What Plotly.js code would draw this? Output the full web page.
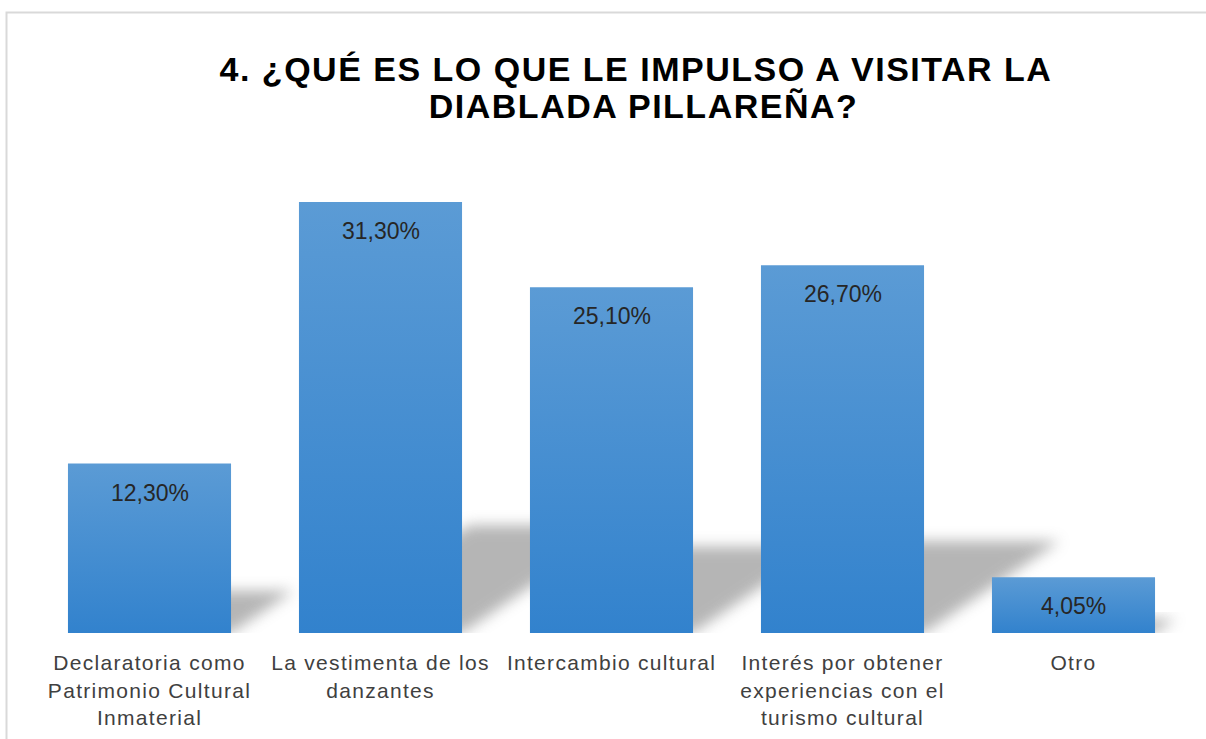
<!DOCTYPE html>
<html>
<head>
<meta charset="utf-8">
<script src="https://cdn.plot.ly/plotly-3.0.1.min.js"></script>
<style>
html,body{margin:0;padding:0;background:#fff;}
#chart{width:1206px;height:739px;}
</style>
</head>
<body>
<div id="chart"></div>
<script>
const categories = [
  "Declaratoria como<br>Patrimonio Cultural<br>Inmaterial",
  "La vestimenta de los<br>danzantes",
  "Intercambio cultural",
  "Interés por obtener<br>experiencias con el<br>turismo cultural",
  "Otro"
];
const values = [12.30, 31.30, 25.10, 26.70, 4.05];
const labels = values.map(v => v.toFixed(2).replace('.', ',') + '%');
const titleLines = ["4. ¿QUÉ ES LO QUE LE IMPULSO A VISITAR LA", "DIABLADA PILLAREÑA?"];

const BARGAP = 0.294;
const half = (1 - BARGAP) / 2;
const FONT = 'Liberation Sans, Arial, sans-serif';

// soft cast shadows derived from each bar's value
const shadows = values.map((v, i) => {
  const dx = 0.022 * v;
  const h = 0.25 * v;
  const x0 = i - half + 0.05, x1 = i + half;
  return {
    type: 'path', xref: 'x', yref: 'y', layer: 'below',
    path: `M ${x0} 0 L ${x1} 0 L ${x1 + dx} ${h} L ${x0 + dx} ${h} Z`,
    fillcolor: 'rgb(150,150,150)', opacity: 0.7, line: {width: 0}
  };
});

const border = {
  type: 'rect', xref: 'paper', yref: 'paper', layer: 'below',
  x0: (6.5 - 34) / 1155, x1: 1.1, y0: -0.5, y1: (633 - 12.5) / 482,
  line: {color: '#d9d9d9', width: 2}, fillcolor: 'rgba(0,0,0,0)'
};

const annotations = values.map((v, i) => ({
  x: i, y: v, xref: 'x', yref: 'y', text: labels[i], showarrow: false,
  yanchor: 'top', yshift: -14,
  font: {family: FONT, size: 23, color: '#262626'}
}));
annotations.push({
  x: 636 / 1206, xref: 'paper', y: (633 - 106) / 482, yref: 'paper',
  xanchor: 'center', yanchor: 'middle', showarrow: false, text: titleLines[1],
  font: {family: FONT, size: 34, color: '#000', weight: 'bold'}
});

const trace = {
  type: 'bar', x: categories.map((c, i) => i), y: values,
  marker: {color: '#4a8fd2', line: {width: 0}},
  hoverinfo: 'none'
};

const layout = {
  width: 1206, height: 739,
  margin: {l: 34, r: 17, t: 151, b: 106},
  paper_bgcolor: '#fff', plot_bgcolor: 'rgba(0,0,0,0)',
  bargap: BARGAP,
  title: {
    text: titleLines[0], x: 636 / 1206, xanchor: 'center', xref: 'container',
    y: 1 - 69 / 739, yanchor: 'middle', yref: 'container',
    font: {family: FONT, size: 34, color: '#000', weight: 'bold'}
  },
  xaxis: {
    tickmode: 'array', tickvals: categories.map((c, i) => i), ticktext: categories,
    range: [-0.5, 4.5], showgrid: false, zeroline: false, showline: false,
    ticks: 'outside', ticklen: 11, tickcolor: 'rgba(0,0,0,0)',
    tickfont: {family: FONT, size: 21, color: '#404040'}
  },
  yaxis: {range: [0, 35], showgrid: false, zeroline: false, showticklabels: false, showline: false},
  shapes: [border].concat(shadows),
  annotations: annotations,
  showlegend: false
};

Plotly.newPlot('chart', [trace], layout, {displayModeBar: false, staticPlot: true}).then(gd => {
  const svgNS = 'http://www.w3.org/2000/svg';
  const svg = gd.querySelector('svg.main-svg');
  const defs = document.createElementNS(svgNS, 'defs');
  defs.innerHTML =
    '<linearGradient id="barGrad" x1="0" y1="0" x2="0" y2="1">' +
    '<stop offset="0" stop-color="#5b9bd5"/><stop offset="1" stop-color="#3282cd"/></linearGradient>' +
    '<filter id="shBlur" x="-50%" y="-50%" width="200%" height="200%"><feGaussianBlur stdDeviation="7"/></filter>';
  svg.insertBefore(defs, svg.firstChild);
  gd.querySelectorAll('.bars .point path').forEach(p => { p.style.fill = 'url(#barGrad)'; });
  gd.querySelectorAll('.shapelayer path').forEach(p => {
    const f = p.style.fill || '';
    if (f.indexOf('150') >= 0) p.setAttribute('filter', 'url(#shBlur)');
  });
  // wider letter spacing as in the reference rendering
  gd.querySelectorAll('.xtick text').forEach(t => { t.style.letterSpacing = '1.3px'; });
  gd.querySelectorAll('.gtitle').forEach(t => { t.style.letterSpacing = '1.5px'; });
  const ann = gd.querySelectorAll('.annotation');
  const last = ann[ann.length - 1];
  if (last) last.querySelectorAll('text').forEach(t => { t.style.letterSpacing = '1.5px'; });
});
</script>
</body>
</html>
